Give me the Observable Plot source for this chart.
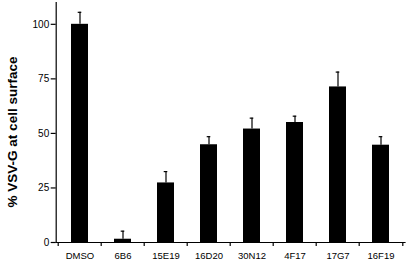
<!DOCTYPE html>
<html>
<head>
<meta charset="utf-8">
<script src="https://cdn.jsdelivr.net/npm/d3@7"></script>
<script src="https://cdn.jsdelivr.net/npm/@observablehq/plot@0.6"></script>
<style>
  html, body { margin: 0; padding: 0; background: #fff; }
  #chart svg { display: block; font-family: "Liberation Sans", Arial, sans-serif; }
</style>
</head>
<body>
<div id="chart"></div>
<script>
const categories = ["DMSO", "6B6", "15E19", "16D20", "30N12", "4F17", "17G7", "16F19"];
const values     = [100, 1.5, 27.3, 44.8, 52.0, 55.0, 71.3, 44.6];
const errors     = [5.5, 3.7, 5.2, 3.7, 5.0, 2.9, 6.8, 3.9];
const yTicks     = [0, 25, 50, 75, 100];
const yLabel     = "% VSV-G at cell surface";

const data = categories.map((name, i) => ({name, value: values[i], hi: values[i] + errors[i]}));

const W = 408, H = 263;
const mL = 55.7, mR = 3.5, mT = 2, mB = 21;
const step = (W - mL - mR) / categories.length;

const chart = Plot.plot({
  width: W,
  height: H,
  marginLeft: mL,
  marginRight: mR,
  marginTop: mT,
  marginBottom: mB,
  style: {fontFamily: "'Liberation Sans', Arial, sans-serif", background: "#fff", color: "#000"},
  x: {domain: categories, paddingInner: 0.6, paddingOuter: 0.3},
  y: {domain: [0, 110]},
  marks: [
    Plot.barY(data, {x: "name", y: "value", fill: "#000"}),
    Plot.ruleX(data, {x: "name", y1: "value", y2: "hi", stroke: "#000", strokeWidth: 1.2}),
    Plot.tickY(data, {x: "name", y: "hi", stroke: "#000", strokeWidth: 1.2, insetLeft: 6.7, insetRight: 6.7}),
    Plot.frame({anchor: "left", stroke: "#000", strokeWidth: 1.2}),
    Plot.frame({anchor: "bottom", stroke: "#000", strokeWidth: 1.2}),
    Plot.axisY({ticks: yTicks, tickSize: 5, tickPadding: 2, fontSize: 10, label: null, strokeWidth: 1.2}),
    Plot.axisX({tickSize: 0, tickPadding: 9.5, fontSize: 9.5, label: null}),
    Plot.axisX({tickSize: 4, text: null, dx: -step / 2, label: null, strokeWidth: 1.2}),
    Plot.axisX({ticks: [categories[categories.length - 1]], tickSize: 4, text: null, dx: step / 2, label: null, strokeWidth: 1.2}),
    Plot.text([yLabel], {frameAnchor: "left", textAnchor: "middle", dx: -43.7, dy: 9.5, rotate: -90, fontSize: 13.5, fontWeight: "bold", fill: "#000"})
  ]
});
document.getElementById("chart").appendChild(chart);
</script>
</body>
</html>
